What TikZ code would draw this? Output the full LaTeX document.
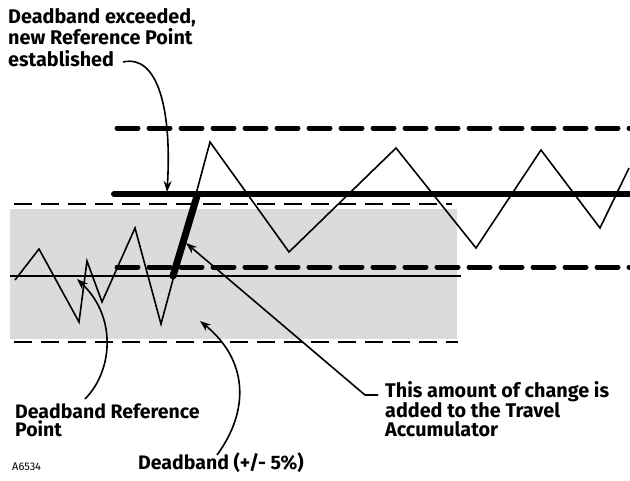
\documentclass[tikz,border=0pt]{standalone}
\usepackage{fontspec}
\setmainfont{Fira Sans}
\usetikzlibrary{arrows.meta}
\begin{document}
\begin{tikzpicture}[x=1pt,y=-1pt,
  lbl/.style={font=\bfseries\fontsize{19.5}{18}\selectfont,align=left,inner sep=0pt},
  thindash/.style={line width=1.4pt,dash pattern=on 18pt off 9pt},
  thickdash/.style={line width=5pt,line cap=round,dash pattern=on 21pt off 11pt},
  thickline/.style={line width=6pt,line cap=round},
  thinline/.style={line width=1.4pt},
  zig/.style={line width=1.6pt,line join=miter},
  callout/.style={line width=1.6pt,-{Stealth[length=11pt,width=8pt]}}]
\useasboundingbox (0,0) rectangle (630,480);
% gray deadband region
\fill[gray!28] (10,209) rectangle (457,339);
% thin dashed deadband limits
\draw[thindash] (14,204) -- (452,204);
\draw[thindash] (14,342) -- (458,342);
% thin reference line
\draw[thinline] (10,276) -- (461,276);
% new thick dashed limits
\draw[thickdash] (117,128) -- (630,128);
\draw[thickdash] (117,267) -- (630,267);
% new reference line
\draw[thickline] (114,194) -- (634,194);
% zigzag signal
\draw[zig] (15,280) -- (39,249) -- (79,322) -- (87,261) -- (102,302) -- (135,228)
  -- (161,324) -- (210,142) -- (289,252) -- (396,148) -- (476,248) -- (541,150)
  -- (600,228) -- (629,168);
% travel accumulated change
\coordinate (ca) at (173,276);
\coordinate (cb) at (197,196);
\draw[line width=7pt,line cap=round] (ca) -- (cb);
% labels
\node[lbl,anchor=north west,font=\bfseries\fontsize{19.8}{21.5}\selectfont] (exc) at (8,8)
  {Deadband exceeded,\\new Reference Point\\established};
\node[lbl,anchor=north west] (ref) at (15,403) {Deadband Reference\\Point};
\node[lbl,anchor=base west] (db) at (138,469) {Deadband (+/- 5\%)};
\node[lbl,anchor=north west,font=\bfseries\fontsize{19.8}{18.5}\selectfont] (acc) at (385,381) {This amount of change is\\added to the Travel\\Accumulator};
\node[font=\fontsize{11}{12}\selectfont,anchor=base west,inner sep=0pt] (code) at (12,470) {A6534};
% callouts
\coordinate (t1) at (167,192);
\draw[callout] (123,62) .. controls (158,54) and (172,110) .. (t1);
\coordinate (t2) at (77,279);
\draw[callout] (85,399) .. controls (112,372) and (118,318) .. (t2);
\coordinate (t3) at (200,321);
\draw[callout] (217,455) .. controls (250,410) and (248,360) .. (t3);
\coordinate (t4) at (186,243);
\coordinate (k4) at (365,395);
\draw[callout] (378,395) -- (k4) -- (t4);
\end{tikzpicture}
\end{document}
